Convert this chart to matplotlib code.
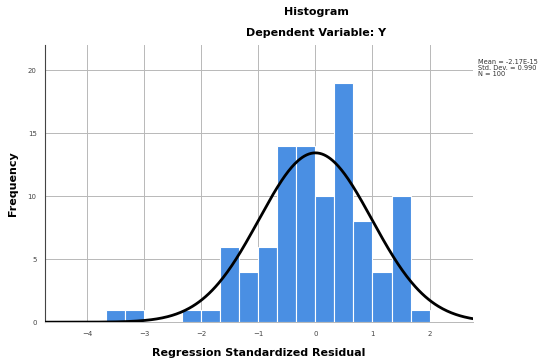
import numpy as np
import matplotlib
matplotlib.use('Agg')
import matplotlib.pyplot as plt

# histogram bins (width 1/3) and counts
bin_edges = np.arange(-11, 7) / 3.0
counts = [1, 1, 0, 0, 1, 1, 6, 4, 6, 14, 14, 10, 19, 8, 4, 10, 1]
x_ticks = [-4, -3, -2, -1, 0, 1, 2]
y_ticks = [0, 5, 10, 15, 20]
mean, sd, n = -2.17e-15, 0.990, 100
stats = ['Mean = -2.17E-15', 'Std. Dev. = 0.990', 'N = 100']

fig = plt.figure(figsize=(5.48, 3.62), dpi=100)
ax = fig.add_axes([0.082, 0.110, 0.781, 0.766])

ax.bar(bin_edges[:-1], counts, width=np.diff(bin_edges), align='edge',
       color='#4a8fe3', edgecolor='white', linewidth=0.8, zorder=2)

# normal curve scaled to the histogram
xs = np.linspace(-4.8, 2.8, 400)
bw = 1 / 3.0
ys = n * bw / (sd * np.sqrt(2 * np.pi)) * np.exp(-0.5 * ((xs - mean) / sd) ** 2)
ax.plot(xs, ys, color='black', linewidth=2, zorder=3)

ax.set_xlim(-4.74, 2.76)
ax.set_ylim(0, 22)
ax.set_xticks(x_ticks)
ax.set_yticks(y_ticks)
ax.grid(True, color='#b8b8b8', linewidth=0.7, zorder=0)
ax.set_axisbelow(True)
ax.tick_params(length=0, labelsize=5, labelcolor='#444444', pad=6)
for s in ['top', 'right']:
    ax.spines[s].set_visible(False)
ax.spines['left'].set_color('#444444')
ax.spines['left'].set_linewidth(0.8)
ax.spines['bottom'].set_color('#b8b8b8')
ax.spines['bottom'].set_linewidth(0.7)

ax.set_xlabel('Regression Standardized Residual', fontsize=8, fontweight='bold', labelpad=8)
ax.set_ylabel('Frequency', fontsize=8, fontweight='bold', labelpad=7)

fig.text(316 / 548, 1 - 12 / 362, 'Histogram', ha='center', va='center',
         fontsize=8, fontweight='bold')
fig.text(316 / 548, 1 - 33 / 362, 'Dependent Variable: Y', ha='center', va='center',
         fontsize=8, fontweight='bold')
fig.text(478 / 548, 1 - 59 / 362, '\n'.join(stats), ha='left', va='top',
         fontsize=4.8, color='#333333', linespacing=1.0)

fig.savefig('out.png', dpi=100)
